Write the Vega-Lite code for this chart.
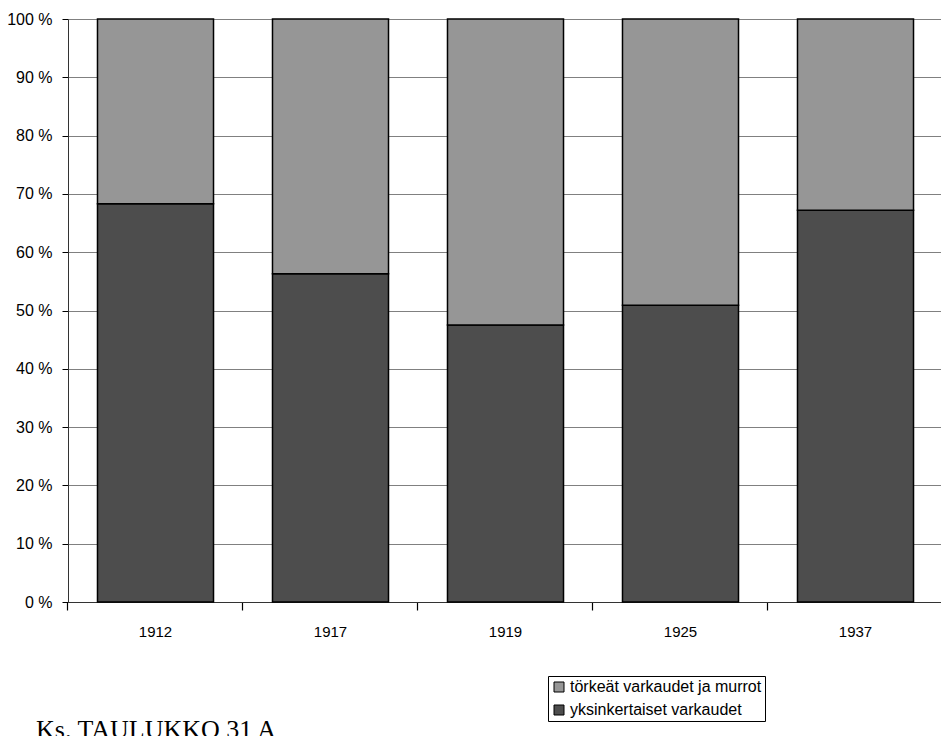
{
  "$schema": "https://vega.github.io/schema/vega-lite/v6.json",
  "width": 875,
  "height": 583,
  "autosize": {"type": "none"},
  "padding": {"left": 68, "top": 19, "right": 0, "bottom": 134},
  "background": "white",
  "config": {"view": {"stroke": null}, "font": "Liberation Sans"},
  "title": {
    "text": "Ks. TAULUKKO 31 A",
    "orient": "bottom",
    "anchor": "start",
    "frame": "group",
    "font": "Liberation Serif",
    "fontSize": 26,
    "fontWeight": "normal",
    "color": "black",
    "baseline": "alphabetic",
    "dx": -32,
    "offset": 16
  },
  "data": {
    "values": [
      {"year": "1912", "category": "yksinkertaiset varkaudet", "value": 68.3},
      {"year": "1912", "category": "törkeät varkaudet ja murrot", "value": 31.7},
      {"year": "1917", "category": "yksinkertaiset varkaudet", "value": 56.3},
      {"year": "1917", "category": "törkeät varkaudet ja murrot", "value": 43.7},
      {"year": "1919", "category": "yksinkertaiset varkaudet", "value": 47.5},
      {"year": "1919", "category": "törkeät varkaudet ja murrot", "value": 52.5},
      {"year": "1925", "category": "yksinkertaiset varkaudet", "value": 50.9},
      {"year": "1925", "category": "törkeät varkaudet ja murrot", "value": 49.1},
      {"year": "1937", "category": "yksinkertaiset varkaudet", "value": 67.2},
      {"year": "1937", "category": "törkeät varkaudet ja murrot", "value": 32.8}
    ]
  },
  "mark": {"type": "bar", "stroke": "black", "strokeWidth": 1.5},
  "encoding": {
    "x": {
      "field": "year",
      "type": "nominal",
      "scale": {"paddingInner": 0.337, "paddingOuter": 0.1685},
      "axis": {
        "title": null,
        "labelAngle": 0,
        "labelFontSize": 15,
        "labelColor": "black",
        "labelPadding": 14,
        "ticks": true,
        "bandPosition": -0.2543,
        "tickSize": 8,
        "tickWidth": 1.2,
        "tickColor": "black",
        "tickOpacity": 1,
        "domainColor": "#333",
        "grid": false
      }
    },
    "y": {
      "field": "value",
      "type": "quantitative",
      "stack": "normalize",
      "scale": {"domain": [0, 1]},
      "axis": {
        "title": null,
        "values": [0, 0.1, 0.2, 0.3, 0.4, 0.5, 0.6, 0.7, 0.8, 0.9, 1],
        "labelExpr": "format(datum.value * 100, 'd') + ' %'",
        "labelFontSize": 16,
        "labelColor": "black",
        "labelPadding": 10,
        "tickSize": 6,
        "tickColor": "black",
        "domainColor": "#333",
        "grid": true,
        "gridColor": "#808080",
        "gridOpacity": 1,
        "gridWidth": 1
      }
    },
    "color": {
      "field": "category",
      "type": "nominal",
      "scale": {
        "domain": ["törkeät varkaudet ja murrot", "yksinkertaiset varkaudet"],
        "range": ["#969696", "#4d4d4d"]
      },
      "legend": {
        "title": null,
        "orient": "none",
        "legendX": 480,
        "legendY": 657,
        "strokeColor": "black",
        "fillColor": "white",
        "padding": 3,
        "symbolType": "square",
        "symbolSize": 100,
        "symbolStrokeColor": "black",
        "symbolStrokeWidth": 1,
        "symbolOpacity": 1,
        "labelFontSize": 16,
        "labelLimit": 400,
        "labelColor": "black",
        "labelOffset": 3,
        "rowPadding": 7
      }
    },
    "order": {"field": "category", "sort": "descending"}
  }
}
